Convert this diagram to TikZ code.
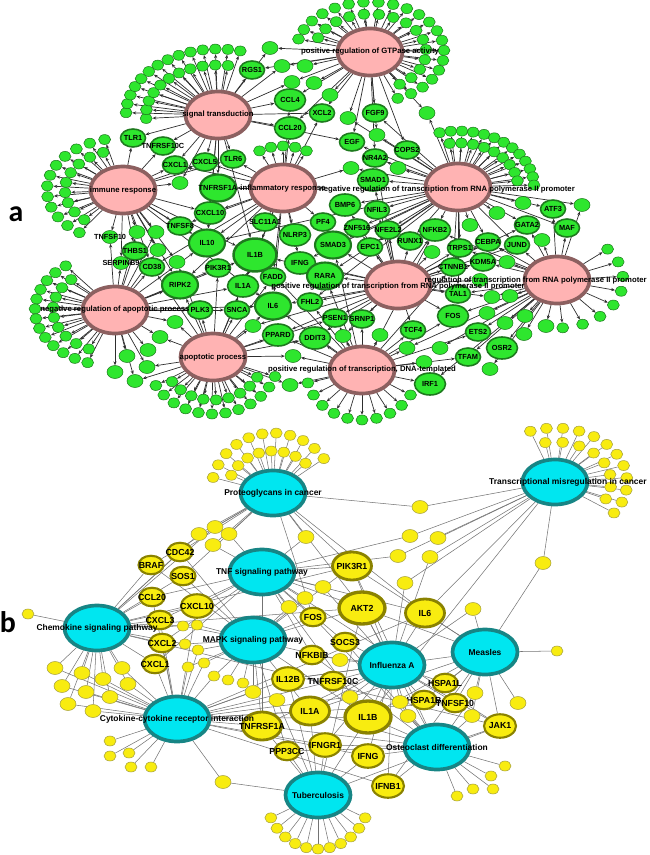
\documentclass[tikz,border=0pt]{standalone}
\usepackage{fontspec}
\setmainfont{Liberation Sans}
\newfontfamily\panelfont{Carlito}
\usepackage{tikz}
\usetikzlibrary{arrows.meta,positioning,calc,backgrounds,shapes.geometric}
\definecolor{hubpink}{HTML}{FFB3B3}
\definecolor{hubbrown}{HTML}{8C6060}
\definecolor{genegreen}{HTML}{2EE62E}
\definecolor{greenrim}{HTML}{1E7A1E}
\definecolor{hubcyan}{HTML}{00E6F0}
\definecolor{hubteal}{HTML}{178585}
\definecolor{geneyellow}{HTML}{F8EC10}
\definecolor{yellowrim}{HTML}{8A8200}
\definecolor{edgegray}{HTML}{2E2E2E}

\begin{document}
\begin{tikzpicture}[
    x=0.02cm, y=-0.02cm,
    line cap=round,
    huba/.style={ellipse, draw=hubbrown, fill=hubpink, line width=2.1pt, minimum width=1.3cm, minimum height=0.94cm, inner sep=0pt},
    hubb/.style={ellipse, draw=hubteal, fill=hubcyan, line width=2.1pt, minimum width=1.3cm, minimum height=0.9cm, inner sep=0pt},
    hubtxt/.style={font=\fontsize{4.4}{5}\selectfont\bfseries, text=black, inner sep=0pt},
    hubtxtb/.style={font=\fontsize{4.8}{5.5}\selectfont\bfseries, text=black, inner sep=0pt},
    leafa/.style={ellipse, draw=greenrim, fill=genegreen, line width=0.3pt, minimum width=0.24cm, minimum height=0.2cm, inner sep=0pt},
    mida/.style={leafa, minimum width=0.32cm, minimum height=0.26cm},
    genea/.style={ellipse, draw=greenrim, fill=genegreen, line width=0.9pt, minimum width=0.5cm, minimum height=0.36cm, inner sep=0pt},
    genem/.style={genea, minimum width=0.62cm, minimum height=0.44cm},
    genel/.style={genea, line width=1.2pt, minimum width=0.72cm, minimum height=0.54cm},
    genexl/.style={genea, line width=1.4pt, minimum width=0.86cm, minimum height=0.66cm},
    gtxt/.style={font=\fontsize{4.2}{5}\selectfont\bfseries, text=black, inner sep=0pt},
    arr/.style={-{Stealth[length=2.2pt,width=1.8pt]}, line width=0.4pt, draw=edgegray},
    leafb/.style={ellipse, draw=yellowrim!75, fill=geneyellow, line width=0.3pt, minimum width=0.24cm, minimum height=0.2cm, inner sep=0pt},
    midb/.style={leafb, minimum width=0.32cm, minimum height=0.26cm},
    geneb/.style={ellipse, draw=yellowrim, fill=geneyellow, line width=1.2pt, minimum width=0.5cm, minimum height=0.37cm, inner sep=0pt},
    genebm/.style={geneb, minimum width=0.64cm, minimum height=0.47cm},
    genebl/.style={geneb, line width=1.6pt, minimum width=0.78cm, minimum height=0.56cm},
    genebxl/.style={geneb, line width=1.9pt, minimum width=0.92cm, minimum height=0.64cm},
    gtxtb/.style={font=\fontsize{5}{6}\selectfont\bfseries, text=black, inner sep=0pt},
    lnk/.style={line width=0.3pt, draw=black!55},
    tag/.style={font=\panelfont\fontsize{17}{18}\selectfont\bfseries, inner sep=0pt}
]
\useasboundingbox (0,0) rectangle (649,855);

% ---------------- Panel a: GO terms ----------------
\node[huba] (gtp)    at (370,52)  {};
\node[huba] (sig)    at (218,115) {};
\node[huba] (imm)    at (123,190) {};
\node[huba] (infl)   at (283,188) {};
\node[huba] (negtr)  at (458,187) {};
\node[huba] (negap)  at (115,310) {};
\node[huba] (apop)   at (213,357) {};
\node[huba] (postr)  at (398,285) {};
\node[huba] (posdna) at (362,370) {};
\node[huba] (regtr)  at (557,280) {};

% labelled genes
\node[genea, label={[gtxt]center:RGS1}] (rgs1) at (252,70) {};
\node[genem, label={[gtxt]center:CCL4}] (ccl4) at (290,100) {};
\node[genem, label={[gtxt]center:CCL20}] (ccl20) at (290,128) {};
\node[genea, label={[gtxt]center:XCL2}] (xcl2) at (322,113) {};
\node[genea, label={[gtxt]center:EGF}] (egf) at (352,142) {};
\node[genea, label={[gtxt]center:FGF9}] (fgf9) at (375,113) {};
\node[genea, label={[gtxt]center:COPS2}] (cops2) at (407,150) {};
\node[genea, label={[gtxt]center:NR4A2}] (nr4a2) at (375,158) {};
\node[genem, label={[gtxt]center:SMAD1}] (smad1) at (373,180) {};
\node[genea, label={[gtxt]center:TLR1}] (tlr1) at (133,138) {};
\node[genea, label={[gtxt]center:TNFRSF10C}] (tnfrsf10c) at (163,146) {};
\node[genea, label={[gtxt]center:CXCL1}] (cxcl1) at (175,165) {};
\node[genea, label={[gtxt]center:CXCL5}] (cxcl5) at (205,162) {};
\node[genea, label={[gtxt]center:TLR6}] (tlr6) at (233,159) {};
\node[genel, label={[gtxt]center:TNFRSF1A}] (tnfrsf1a) at (218,188) {};
\node[genem, label={[gtxt]center:CXCL10}] (cxcl10) at (210,213) {};
\node[genea, label={[gtxt]center:TNFSF8}] (tnfsf8) at (180,226) {};
\node[genea, label={[gtxt]center:SLC11A1}] (slc11a1) at (265,222) {};
\node[genem, label={[gtxt]center:NLRP3}] (nlrp3) at (295,235) {};
\node[genea, label={[gtxt]center:PF4}] (pf4) at (323,222) {};
\node[genel, label={[gtxt]center:IL10}] (il10) at (207,243) {};
\node[genexl, label={[gtxt]center:IL1B}] (il1b) at (255,255) {};
\node[genem, label={[gtxt]center:IFNG}] (ifng) at (300,263) {};
\node[mida, label={[gtxt]center:TNFSF10}] (tnfsf10) at (110,237) {};
\node[genea, label={[gtxt]center:THBS1}] (thbs1) at (135,251) {};
\node[mida, label={[gtxt]center:SERPINB9}] (serpinb9) at (121,263) {};
\node[genea, label={[gtxt]center:CD38}] (cd38) at (152,267) {};
\node[genea, label={[gtxt]center:PIK3R1}] (pik3r1) at (218,268) {};
\node[genel, label={[gtxt]center:RIPK2}] (ripk2) at (180,285) {};
\node[genem, label={[gtxt]center:IL1A}] (il1a) at (243,286) {};
\node[genea, label={[gtxt]center:FADD}] (fadd) at (273,277) {};
\node[genel, label={[gtxt]center:RARA}] (rara) at (325,276) {};
\node[genel, label={[gtxt]center:IL6}] (il6) at (273,306) {};
\node[genea, label={[gtxt]center:FHL2}] (fhl2) at (310,302) {};
\node[genel, label={[gtxt]center:SMAD3}] (smad3) at (333,245) {};
\node[genem, label={[gtxt]center:BMP6}] (bmp6) at (345,205) {};
\node[genea, label={[gtxt]center:NFIL3}] (nfil3) at (377,210) {};
\node[genea, label={[gtxt]center:ZNF516}] (znf516) at (357,228) {};
\node[genea, label={[gtxt]center:NFE2L2}] (nfe2l2) at (388,230) {};
\node[genea, label={[gtxt]center:EPC1}] (epc1) at (370,247) {};
\node[genea, label={[gtxt]center:RUNX1}] (runx1) at (410,241) {};
\node[genem, label={[gtxt]center:NFKB2}] (nfkb2) at (435,230) {};
\node[genea, label={[gtxt]center:TRPS1}] (trps1) at (460,248) {};
\node[genea, label={[gtxt]center:CEBPA}] (cebpa) at (488,242) {};
\node[genea, label={[gtxt]center:JUND}] (jund) at (517,245) {};
\node[genea, label={[gtxt]center:GATA2}] (gata2) at (527,225) {};
\node[genea, label={[gtxt]center:ATF3}] (atf3) at (553,209) {};
\node[genea, label={[gtxt]center:MAF}] (maf) at (567,228) {};
\node[genea, label={[gtxt]center:CTNNB1}] (ctnnb1) at (453,267) {};
\node[genea, label={[gtxt]center:KDM5A}] (kdm5a) at (483,262) {};
\node[genea, label={[gtxt]center:TAL1}] (tal1) at (458,294) {};
\node[genem, label={[gtxt]center:FOS}] (fos) at (453,316) {};
\node[genea, label={[gtxt]center:ETS2}] (ets2) at (478,332) {};
\node[genem, label={[gtxt]center:OSR2}] (osr2) at (502,348) {};
\node[genea, label={[gtxt]center:TFAM}] (tfam) at (468,357) {};
\node[genea, label={[gtxt]center:TCF4}] (tcf4) at (413,330) {};
\node[genea, label={[gtxt]center:SRNP1}] (srnp1) at (362,319) {};
\node[genea, label={[gtxt]center:PSEN1}] (psen1) at (335,318) {};
\node[genem, label={[gtxt]center:PPARD}] (ppard) at (278,335) {};
\node[genem, label={[gtxt]center:DDIT3}] (ddit3) at (315,338) {};
\node[genea, label={[gtxt]center:SNCA}] (snca) at (237,310) {};
\node[genea, label={[gtxt]center:PLK3}] (plk3) at (200,310) {};
\node[genem, label={[gtxt]center:IRF1}] (irf1) at (430,384) {};

% unlabelled genes between terms
\foreach \m/\x/\y in {m1/270/48, m2/282/66, m3/305/66, m4/292/82, m5/314/83, m6/330/95, m7/348/118, m8/377/135, m9/427/113,
    m10/351/168, m11/398/168, m15/180/183, m17/156/232, m18/137/232, m19/158/250, m20/177/262, m23/253/326,
    m25/293/356, m26/290/385, m28/343/336, m29/380/335, m31/407/348, m32/424/362, m33/440/348, m35/490/369,
    m36/487/313, m37/505/323, m39/525/316, m40/524/334, m41/546/326, m42/492/297, m43/510/296, m46/470/225,
    m47/497/213, m49/523/203, m50/582/205, m51/542/240, m52/432/252, m53/507/262, m54/480/280,
    m56/160/337, m57/175/322, m58/148/350, m59/127/356, m60/115/372, m61/135/381, m62/147/367}
    \node[mida] (\m) at (\x,\y) {};

% leaves fanned round each term
\foreach \hub/\angone/\angtwo/\cnt/\rx/\ry in {gtp/165/-68/21/74/50, gtp/158/-58/15/56/38,
    sig/178/76/14/92/66, sig/184/82/11/72/50, imm/104/235/12/76/52, imm/110/228/9/58/40,
    infl/62/118/5/50/42, negtr/104/2/13/76/56, negtr/98/8/9/60/44,
    negap/128/250/13/80/56, negap/135/245/9/62/43, apop/210/340/12/66/57, apop/215/332/9/50/43,
    posdna/195/330/10/56/50, regtr/40/-85/8/66/48}{
  \foreach \k in {1,...,\cnt}{
    \pgfmathsetmacro{\ang}{-(\angone+(\k-1)*(\angtwo-\angone)/(\cnt-1))}
    \node[leafa] (\hub-\rx-\k) at ($(\hub)+({\rx*cos(\ang)},{\ry*sin(\ang)})$) {};
    \begin{scope}[on background layer]
      \draw[arr] (\hub) -- (\hub-\rx-\k);
    \end{scope}
  }
}

\begin{scope}[on background layer]
\foreach \hub/\tgts in {gtp/{rgs1,ccl4,ccl20,xcl2,fgf9,egf,cops2,nr4a2},
    sig/{rgs1,ccl4,ccl20,xcl2,tlr1,tnfrsf10c,cxcl1,cxcl5,tlr6,tnfrsf1a,egf,cxcl10,il1b,il10},
    imm/{tlr1,tnfrsf10c,cxcl1,cxcl5,tnfsf8,tnfsf10,thbs1,serpinb9,cd38,cxcl10,il10,ripk2,il1b,tlr6,il6},
    infl/{tlr6,cxcl5,cxcl1,tnfrsf1a,cxcl10,slc11a1,nlrp3,pf4,il10,il1b,ifng,il1a,il6,ccl20,ccl4,xcl2,cd38,ripk2,tnfsf8,fadd},
    negtr/{cops2,nr4a2,smad1,bmp6,nfil3,znf516,nfe2l2,epc1,runx1,nfkb2,trps1,cebpa,jund,gata2,atf3,maf,smad3,ctnnb1,il10,ifng,rara,fhl2,tal1,egf,fgf9},
    negap/{serpinb9,thbs1,cd38,ripk2,plk3,snca,il10,il1b,pik3r1,il6,tnfsf10,il1a},
    apop/{plk3,snca,pik3r1,il1a,il6,fadd,ripk2,ppard,ddit3,psen1,il1b,cd38},
    postr/{rara,smad3,bmp6,nfe2l2,epc1,runx1,nfkb2,trps1,ctnnb1,kdm5a,tal1,fos,tcf4,srnp1,psen1,fhl2,ddit3,ppard,il6,il1b,smad1,ifng,nr4a2,cebpa,nfil3,znf516,jund,gata2},
    posdna/{il6,fhl2,ddit3,ppard,psen1,srnp1,tcf4,tfam,irf1,fos,smad3,rara,ctnnb1,ets2,il1b,nfkb2},
    regtr/{atf3,maf,gata2,jund,cebpa,kdm5a,trps1,tal1,fos,ets2,osr2,tfam,nfkb2,irf1}}
  \foreach \tg in \tgts \draw[arr] (\hub) -- (\tg);
\foreach \m/\hs in {m1/{sig,gtp}, m2/{sig,gtp}, m3/{gtp}, m4/{gtp,sig}, m5/{gtp}, m6/{gtp}, m7/{gtp,negtr},
    m8/{gtp,negtr}, m9/{gtp,negtr}, m10/{negtr,infl}, m11/{negtr}, m15/{imm,sig}, m17/{imm,negap},
    m18/{imm,negap}, m19/{imm,negap}, m20/{imm,apop}, m23/{apop,postr}, m25/{apop,posdna}, m26/{apop,posdna},
    m28/{posdna,postr}, m29/{posdna}, m31/{posdna,regtr}, m32/{posdna}, m33/{regtr}, m35/{regtr}, m36/{regtr},
    m37/{regtr}, m39/{regtr}, m40/{regtr}, m41/{regtr}, m42/{regtr,postr}, m43/{regtr}, m46/{negtr},
    m47/{negtr}, m49/{negtr}, m50/{negtr,regtr}, m51/{regtr}, m52/{postr}, m53/{regtr}, m54/{postr},
    m56/{negap,apop}, m57/{negap,apop}, m58/{negap}, m59/{negap}, m60/{negap}, m61/{negap,apop}, m62/{negap,apop}}
  \foreach \hb in \hs \draw[arr] (\hb) -- (\m);
\end{scope}

% term names
\node[hubtxt] (gtp-t) at (gtp) {positive regulation of GTPase activity};
\node[hubtxt] (sig-t) at (sig) {signal transduction};
\node[hubtxt] (imm-t) at (imm) {immune response};
\node[hubtxt] (infl-t) at (infl) {inflammatory response};
\node[hubtxt] (negtr-t) at (447,190) {negative regulation of transcription from RNA polymerase II promoter};
\node[hubtxt] (negap-t) at (negap) {negative regulation of apoptotic process};
\node[hubtxt] (apop-t) at (apop) {apoptotic process};
\node[hubtxt] (postr-t) at (398,287) {positive regulation of transcription from RNA polymerase II promoter};
\node[hubtxt] (posdna-t) at (posdna) {positive regulation of transcription, DNA-templated};
\node[hubtxt, anchor=east] (regtr-t) at (647,281) {regulation of transcription from RNA polymerase II promoter};

% ---------------- Panel b: KEGG pathways ----------------
\node[hubb] (prot)    at (273,493) {};
\node[hubb] (trmis)   at (555,482) {};
\node[hubb] (tnf)     at (262,572) {};
\node[hubb] (chemo)   at (97,628)  {};
\node[hubb] (mapk)    at (253,640) {};
\node[hubb] (flu)     at (392,665) {};
\node[hubb] (measles) at (485,652) {};
\node[hubb] (cyto)    at (177,719) {};
\node[hubb] (osteo)   at (437,747) {};
\node[hubb] (tb)      at (318,795) {};

\node[geneb, label={[gtxtb]center:CDC42}] (bcdc42) at (180,552) {};
\node[geneb, label={[gtxtb]center:BRAF}] (bbraf) at (151,565) {};
\node[geneb, label={[gtxtb]center:SOS1}] (bsos1) at (183,576) {};
\node[geneb, label={[gtxtb]center:CCL20}] (bccl20) at (152,597) {};
\node[genebm, label={[gtxtb]center:CXCL10}] (bcxcl10) at (197,606) {};
\node[geneb, label={[gtxtb]center:CXCL3}] (bcxcl3) at (160,620) {};
\node[geneb, label={[gtxtb]center:CXCL2}] (bcxcl2) at (162,643) {};
\node[geneb, label={[gtxtb]center:CXCL1}] (bcxcl1) at (155,664) {};
\node[genebl, label={[gtxtb]center:PIK3R1}] (bpik3r1) at (352,566) {};
\node[genebxl, label={[gtxtb]center:AKT2}] (bakt2) at (362,608) {};
\node[genebl, label={[gtxtb]center:IL6}] (bil6) at (425,613) {};
\node[geneb, label={[gtxtb]center:FOS}] (bfos) at (313,617) {};
\node[geneb, label={[gtxtb]center:SOCS3}] (bsocs3) at (345,642) {};
\node[geneb, label={[gtxtb]center:NFKBIB}] (bnfkbib) at (312,655) {};
\node[genebm, label={[gtxtb]center:IL12B}] (bil12b) at (288,679) {};
\node[geneb, label={[gtxtb]center:TNFRSF10C}] (btnfrsf10c) at (333,681) {};
\node[genebl, label={[gtxtb]center:IL1A}] (bil1a) at (310,711) {};
\node[genebxl, label={[gtxtb]center:IL1B}] (bil1b) at (368,717) {};
\node[genebl, label={[gtxtb]center:TNFRSF1A}] (btnfrsf1a) at (262,726) {};
\node[genebm, label={[gtxtb]center:IFNGR1}] (bifngr1) at (325,745) {};
\node[genebm, label={[gtxtb]center:IFNG}] (bifng) at (368,756) {};
\node[geneb, label={[gtxtb]center:PPP3CC}] (bppp3cc) at (287,751) {};
\node[genebm, label={[gtxtb]center:IFNB1}] (bifnb1) at (388,786) {};
\node[geneb, label={[gtxtb]center:HSPA1L}] (bhspa1l) at (445,683) {};
\node[geneb, label={[gtxtb]center:HSPA1B}] (bhspa1b) at (424,700) {};
\node[geneb, label={[gtxtb]center:TNFSF10}] (btnfsf10) at (455,703) {};
\node[genebm, label={[gtxtb]center:JAK1}] (bjak1) at (500,726) {};

% unlabelled genes
\foreach \m/\x/\y in {b1/199/534, b2/215/527, b3/213/545, b4/229/534, b5/306/537, b6/420/507, b7/410/536,
    b8/438/538, b9/398/556, b10/430/557, b11/405/583, b12/473/609, b13/543/563, b14/323/587, b15/305/598,
    b16/289/607, b18/340/660, b19/350/697, b20/400/702, b21/408/716, b22/475/693, b23/472/716, b24/518/703,
    b26/253/692, b27/277/700, b28/223/782,
    c1/55/668, c2/62/686, c3/68/704, c4/82/673, c5/86/692, c6/93/711, c7/103/679, c8/110/697, c9/122/668, c10/128/684}
    \node[midb] (\m) at (\x,\y) {};
\foreach \m/\x/\y in {k1/183/626, k2/185/644, k3/197/625, k4/198/650, k5/188/667, k6/204/663, k7/214/676,
    k8/228/680, k9/243/683, b25/557/651, chl/28/614, cl1/110/741, cl2/110/756, cl3/129/753, cl4/131/767,
    cl5/151/767, ol1/505/766, ol2/491/776, ol3/493/789, ol4/473/789, ol5/457/796}
    \node[leafb] (\m) at (\x,\y) {};

\foreach \hub/\angone/\angtwo/\cnt/\rx/\ry in {prot/35/165/11/62/60, prot/45/155/8/46/42,
    trmis/-35/110/12/72/54, trmis/-25/100/8/56/40, tb/205/335/11/52/54}{
  \foreach \k in {1,...,\cnt}{
    \pgfmathsetmacro{\ang}{-(\angone+(\k-1)*(\angtwo-\angone)/(\cnt-1))}
    \node[leafb] (\hub-\rx-\k) at ($(\hub)+({\rx*cos(\ang)},{\ry*sin(\ang)})$) {};
    \begin{scope}[on background layer]
      \draw[lnk] (\hub) -- (\hub-\rx-\k);
    \end{scope}
  }
}

\begin{scope}[on background layer]
\foreach \hub/\tgts in {prot/{bcdc42,bbraf,bsos1,bpik3r1,bakt2,bfos,bil6},
    trmis/{bil6,bil1b},
    tnf/{bcxcl10,bccl20,bcxcl3,bcxcl2,bcxcl1,bpik3r1,bakt2,bfos,bsocs3,bnfkbib,bil6,bil1b,btnfrsf1a,bjak1},
    chemo/{bcdc42,bbraf,bsos1,bccl20,bcxcl10,bcxcl3,bcxcl2,bcxcl1,bpik3r1,bakt2,bjak1},
    mapk/{bcdc42,bbraf,bsos1,bfos,bakt2,bpik3r1,bil1a,bil1b,btnfrsf1a,bppp3cc},
    flu/{bpik3r1,bakt2,bil6,bsocs3,bnfkbib,bil12b,btnfrsf10c,bil1a,bil1b,bifng,bifngr1,bifnb1,bhspa1l,bhspa1b,btnfsf10,bjak1,btnfrsf1a},
    measles/{bpik3r1,bakt2,bil6,bil12b,bil1a,bil1b,bhspa1l,bhspa1b,btnfsf10,bjak1,bifnb1},
    cyto/{bccl20,bcxcl10,bcxcl3,bcxcl2,bcxcl1,bil6,bil12b,bil1a,bil1b,btnfrsf1a,bifng,bifngr1,bifnb1,btnfsf10,btnfrsf10c},
    osteo/{bpik3r1,bakt2,bfos,bsocs3,bnfkbib,btnfrsf1a,bil1a,bil1b,bifng,bifngr1,bifnb1,bppp3cc,bjak1},
    tb/{bakt2,bil12b,bil1a,bil1b,btnfrsf1a,bifng,bifngr1,bppp3cc,bjak1}}
  \foreach \tg in \tgts \draw[lnk] (\hub) -- (\tg);
\foreach \m/\hs in {b1/{prot,chemo}, b2/{prot,chemo}, b3/{prot,tnf}, b4/{prot,tnf}, b5/{prot,tnf},
    b6/{trmis,prot}, b7/{trmis,tnf}, b8/{trmis}, b9/{trmis,tnf}, b10/{trmis,flu}, b11/{trmis,flu},
    b12/{flu,measles}, b13/{trmis,measles}, b14/{tnf,flu}, b15/{tnf,mapk}, b16/{tnf,mapk}, b18/{flu,mapk},
    b19/{flu,cyto}, b20/{flu,osteo}, b21/{flu,osteo}, b22/{measles,osteo}, b23/{measles,osteo},
    b24/{measles}, b25/{measles}, b26/{cyto,mapk}, b27/{cyto,tb}, b28/{cyto,tb},
    c1/{chemo,cyto}, c2/{chemo,cyto}, c3/{chemo,cyto}, c4/{chemo,cyto}, c5/{chemo,cyto}, c6/{chemo,cyto},
    c7/{chemo,cyto}, c8/{chemo,cyto}, c9/{chemo,cyto}, c10/{chemo,cyto},
    k1/{mapk,chemo}, k2/{mapk,chemo}, k3/{mapk,chemo}, k4/{mapk,cyto}, k5/{mapk,cyto}, k6/{mapk,cyto},
    k7/{mapk,cyto}, k8/{mapk}, k9/{mapk}, chl/{chemo}, cl1/{cyto}, cl2/{cyto}, cl3/{cyto}, cl4/{cyto},
    cl5/{cyto}, ol1/{osteo}, ol2/{osteo}, ol3/{osteo}, ol4/{osteo}, ol5/{osteo}}
  \foreach \hb in \hs \draw[lnk] (\hb) -- (\m);
\end{scope}

\node[hubtxtb] (prot-t) at (prot) {Proteoglycans in cancer};
\node[hubtxtb, anchor=east] (trmis-t) at (647,482) {Transcriptional misregulation in cancer};
\node[hubtxtb] (tnf-t) at (tnf) {TNF signaling pathway};
\node[hubtxtb] (chemo-t) at (chemo) {Chemokine signaling pathway};
\node[hubtxtb] (mapk-t) at (mapk) {MAPK signaling pathway};
\node[hubtxtb] (flu-t) at (flu) {Influenza A};
\node[hubtxtb] (measles-t) at (measles) {Measles};
\node[hubtxtb] (cyto-t) at (cyto) {Cytokine-cytokine receptor interaction};
\node[hubtxtb] (osteo-t) at (osteo) {Osteoclast differentiation};
\node[hubtxtb] (tb-t) at (tb) {Tuberculosis};

% panel letters
\node[tag] (tag-a) at (16,214) {a};
\node[tag] (tag-b) at (8,622) {b};

\end{tikzpicture}
\end{document}
